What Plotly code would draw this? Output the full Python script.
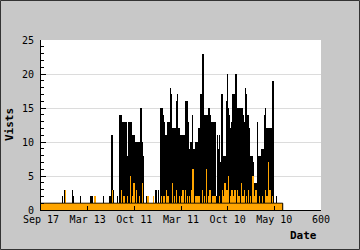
import plotly.graph_objects as go

# ---- data ----
x_tick_vals = [0, 100, 200, 300, 400, 500, 600]
x_tick_text = ["Sep 17", "Mar 13", "Oct 11", "Mar 11", "Oct 10", "May 10", "600"]

visits = [
    1, 1, 0, 1, 1, 1, 1, 0, 1, 1,        # 0-9
    1, 1, 1, 1, 0, 1, 1, 1, 1, 1,        # 10-19
    1, 0, 1, 1, 1, 1, 1, 1, 1, 0,        # 20-29
    1, 1, 1, 1, 1, 1, 0, 1, 1, 1,        # 30-39
    1, 1, 1, 1, 1, 0, 2, 1, 1, 1,        # 40-49
    1, 3, 2, 1, 1, 1, 0, 1, 1, 1,        # 50-59
    1, 1, 1, 1, 1, 1, 0, 3, 2, 1,        # 60-69
    1, 1, 1, 1, 1, 0, 1, 1, 1, 1,        # 70-79
    1, 1, 1, 1, 2, 1, 1, 1, 1, 0,        # 80-89
    1, 1, 1, 1, 1, 1, 1, 1, 1, 1,        # 90-99
    1, 1, 1, 1, 1, 2, 2, 2, 1, 1,        # 100-109
    2, 1, 1, 1, 1, 2, 1, 1, 1, 1,        # 110-119
    1, 1, 1, 1, 1, 0, 1, 1, 1, 1,        # 120-129
    1, 1, 1, 2, 1, 1, 1, 1, 1, 1,        # 130-139
    1, 1, 1, 1, 1, 1, 1, 2, 1, 1,        # 140-149
    1, 1, 11, 6, 3, 1, 1, 1, 1, 1,       # 150-159
    1, 1, 1, 2, 1, 1, 1, 1, 2, 14,       # 160-169
    10, 13, 14, 12, 9, 13, 12, 13, 11, 13,   # 170-179
    13, 7, 13, 12, 6, 5, 8, 4, 13, 12,       # 180-189
    13, 10, 13, 11, 3, 4, 2, 11, 9, 11,      # 190-199
    10, 8, 9, 10, 7, 9, 10, 9, 10, 8,        # 200-209
    10, 9, 7, 10, 15, 9, 10, 10, 8, 3,       # 210-219
    1, 1, 1, 1, 1, 1, 1, 2, 1, 2,            # 220-229
    1, 1, 1, 1, 1, 1, 1, 1, 1, 1,            # 230-239
    2, 1, 1, 1, 1, 1, 3, 1, 1, 1,            # 240-249
    1, 3, 1, 1, 1,                           # 250-254
    15, 12, 14, 13, 15, 11, 14,              # 255-261
    14, 12, 13, 10,                          # 262-265
    11, 9, 11, 10, 11,                       # 266-270
    13, 12, 13, 11, 12, 13,                  # 271-276
    18, 12, 17, 11,                          # 277-280
    12, 11, 12, 10, 12, 11, 12,              # 281-287
    12, 10, 16, 12,                          # 288-291
    17, 12, 11,                              # 292-294
    12, 10, 11,                              # 295-297
    2, 3, 1, 2,                              # 298-301
    11, 9, 10, 11, 8, 10, 11,                # 302-308
    15, 16, 12, 14, 16, 11, 13,              # 309-315
    9, 8, 9, 7,                              # 316-319
    10, 8, 9, 10,                            # 320-323
    14, 6,                                   # 324-325
    9, 8, 9, 7, 9, 10, 8,                    # 326-332
    10, 9, 10, 10,                           # 333-336
    12, 10, 12, 11,                          # 337-340
    17, 15, 16, 17, 14, 16, 23,              # 341-347
    15, 13, 14, 12,                          # 348-351
    14, 13, 12, 14, 13, 11,                  # 352-357
    15, 13, 14, 15, 12, 14, 13,              # 358-364
    13, 12, 13, 11, 13, 12, 10, 13,          # 365-372
    2, 1, 2, 2, 1,                           # 373-377
    11, 9,                                   # 378-379
    6, 5, 11, 6,                             # 380-383
    7, 6,                                    # 384-385
    7, 17, 6, 7, 5,                          # 386-390
    8, 7, 8, 6, 8, 7,                        # 391-396
    16, 14, 20, 15,                          # 397-400
    14, 12, 13,                              # 401-403
    14, 12, 11, 12, 13, 10,                  # 404-409
    17, 14, 16, 17, 13, 15, 12,              # 410-416
    20, 14, 13, 12,                          # 417-420
    14, 15, 13, 14, 12, 15,                  # 421-426
    15, 12, 14, 15, 11, 13, 14,              # 427-433
    12, 13, 11, 13,                          # 434-437
    18, 13, 17, 12,                          # 438-441
    14, 13, 14, 12,                          # 442-445
    8, 7, 8, 6, 8, 7, 8,                     # 446-452
    8, 6, 7,                                 # 453-455
    4, 3, 4, 2, 4, 3, 4,                     # 456-462
    13, 8, 7,                                # 463-465
    8, 7, 8, 6, 8, 7,                        # 466-471
    9, 8, 9, 7, 9, 8,                        # 472-477
    14, 12, 15, 13, 12,                      # 478-482
    12, 11, 12, 10, 12, 11, 12, 11, 10, 12,  # 483-492
    12, 11, 12, 10,                          # 493-496
    19, 12,                                  # 497-498
    1, 1, 0, 1, 1, 2, 1, 1, 1, 1,            # 499-508
    1, 1, 1, 0, 1, 1, 1, 1, 1,               # 509-517
]

orange_base = 1
orange_spikes = {
    52: 3, 115: 2, 153: 3, 172: 3, 176: 2, 178: 2, 185: 2, 191: 5, 195: 2,
    199: 4, 204: 3, 210: 2, 217: 4, 229: 2, 241: 2, 258: 2, 263: 2, 268: 3,
    272: 2, 281: 4, 285: 2, 290: 3, 296: 2, 300: 2, 304: 3, 309: 3, 313: 2,
    318: 2, 322: 3, 325: 6, 330: 2, 334: 2, 338: 2, 345: 3, 350: 2, 354: 6,
    358: 2, 362: 3, 367: 2, 370: 2, 373: 2, 382: 2, 388: 3, 392: 2, 394: 4,
    398: 3, 401: 5, 405: 2, 409: 3, 412: 2, 415: 3, 420: 3, 424: 2, 429: 4,
    432: 2, 436: 3, 440: 2, 444: 3, 448: 2, 454: 5, 458: 2, 460: 3, 468: 2,
    474: 2, 480: 3, 484: 2, 487: 7, 490: 3, 495: 2,
}

# ---- build ----
N = len(visits)
days = [i + 0.5 for i in range(N)]
orange = [orange_spikes.get(i, orange_base) for i in range(N)]

fig = go.Figure()
fig.add_bar(x=days, y=visits, width=1,
            marker=dict(color="black", line=dict(width=0)), hoverinfo="skip")
fig.add_bar(x=days, y=orange, width=1,
            marker=dict(color="#FFA500", line=dict(width=0)), hoverinfo="skip")

edge_x = list(range(N + 1)) + [N]
edge_y = [min(v, 1) for v in orange] + [min(orange[-1], 1), 0]
fig.add_scatter(x=edge_x, y=edge_y, mode="lines",
                line=dict(color="black", width=1, shape="hv"), hoverinfo="skip")

L, R, T, B = 41, 39, 40, 40
W, H = 360, 250
pw, ph = W - L - R, H - T - B

fig.update_layout(
    width=W, height=H,
    margin=dict(l=L, r=R, t=T, b=B),
    paper_bgcolor="#c8c8c8", plot_bgcolor="white",
    barmode="overlay", bargap=0, showlegend=False,
    font=dict(family="DejaVu Sans Mono", size=10, color="black"),
)
fig.update_xaxes(
    range=[0, 600], tickmode="array", tickvals=x_tick_vals, ticktext=x_tick_text,
    ticks="inside", ticklen=4, tickcolor="black", tickwidth=1,
    showline=True, linecolor="black", linewidth=1,
    showgrid=False, zeroline=False, fixedrange=True,
)
fig.update_yaxes(
    range=[0, 25], tick0=0, dtick=5,
    ticks="inside", ticklen=5, tickcolor="black", tickwidth=1,
    showline=True, linecolor="black", linewidth=1,
    showgrid=True, gridcolor="#dcdcdc", gridwidth=1, zeroline=False,
    minor=dict(tick0=0, dtick=1, ticks="inside", ticklen=3, tickcolor="black", showgrid=False),
    ticklabelstandoff=4, fixedrange=True,
)

fig.add_annotation(text="<b>Vists</b>", xref="paper", yref="paper",
                   x=(9 - L) / pw, y=0.5, textangle=-90, showarrow=False,
                   xanchor="center", yanchor="middle",
                   font=dict(family="DejaVu Sans Mono", size=11, color="black"))
fig.add_annotation(text="<b>Date</b>", xref="paper", yref="paper",
                   x=(319 - L) / pw, y=(H - B - 236) / ph, showarrow=False,
                   xanchor="right", yanchor="middle",
                   font=dict(family="DejaVu Sans Mono", size=11, color="black"))

fig.add_shape(type="rect", xref="paper", yref="paper",
              x0=(0.5 - L) / pw, x1=(W - 0.5 - L) / pw,
              y0=(H - B - (H - 0.5)) / ph, y1=(H - B - 0.5) / ph,
              line=dict(color="#333333", width=1), fillcolor="rgba(0,0,0,0)")

fig.write_html("out.html")
